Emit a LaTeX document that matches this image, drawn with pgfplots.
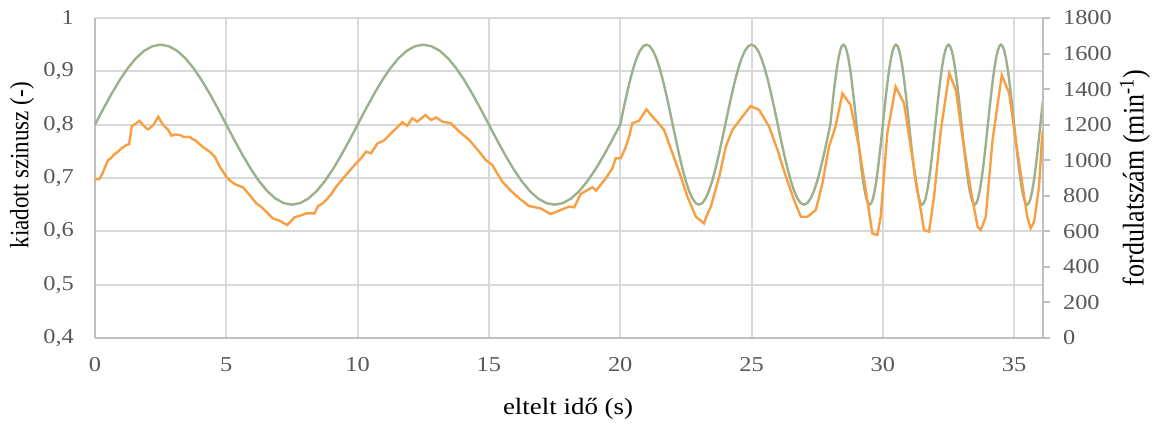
\documentclass[border=0pt]{standalone}
\usepackage{fontspec}
\setmainfont{Liberation Serif}
\newfontfamily\widefont[FakeStretch=1.15]{Liberation Serif}
\usepackage{graphicx}
\usepackage{pgfplots}
\pgfplotsset{compat=1.18}
\definecolor{colGreen}{HTML}{9BB08B}
\definecolor{colOrange}{HTML}{F7A043}
\definecolor{colText}{HTML}{595959}
\definecolor{colGrid}{HTML}{D9D9D9}
\definecolor{colAxis}{HTML}{BFBFBF}

\pgfplotsset{
  chartbase/.style={
    width=474pt, height=160pt, scale only axis,
    at={(0,0)}, anchor=south west,
    xmin=0, xmax=36.1,
    axis line style={-, colAxis, line width=1pt},
    tick label style={font=\widefont\fontsize{10.6}{12}\selectfont, text=colText},
    label style={text=colText},
    /pgf/number format/assume math mode=true,
  }
}

\begin{document}
\begin{tikzpicture}
% left axis: kiadott szinusz
\begin{axis}[
  chartbase,
  axis x line*=bottom, axis y line*=left,
  ymin=0.4, ymax=1,
  ytick={0.4,0.5,...,1.0},
  xtick={0,5,...,35},
  major tick length=0pt,
  grid=major,
  grid style={colGrid, line width=1pt},
  yticklabel style={/pgf/number format/use comma, /pgf/number format/fixed,
    /pgf/number format/precision=1, xshift=-7pt},
  xticklabel style={yshift=-6.4pt},
  every axis y label/.style={at={(axis description cs:-0.077,0.54)}, rotate=90, anchor=center,
    font=\fontsize{11.5}{13}\selectfont},
  every axis x label/.style={at={(axis description cs:0.499,-0.222)}, anchor=center,
    font=\widefont\fontsize{11.7}{13}\selectfont},
  ylabel={\scalebox{1}[1.15]{kiadott szinusz (-)}},
  xlabel={eltelt idő (s)},
]
\addplot[colGreen, line width=1.2pt] coordinates {
(0,0.8000) (0.3125,0.8293) (0.625,0.8574) (0.9375,0.8833) (1.25,0.9061) (1.5625,0.9247) (1.875,0.9386) (2.1875,0.9471)
(2.5,0.9500) (2.8125,0.9471) (3.125,0.9386) (3.4375,0.9247) (3.75,0.9061) (4.0625,0.8833) (4.375,0.8574) (4.6875,0.8293)
(5,0.8000) (5.3125,0.7707) (5.625,0.7426) (5.9375,0.7167) (6.25,0.6939) (6.5625,0.6753) (6.875,0.6614) (7.1875,0.6529)
(7.5,0.6500) (7.8125,0.6529) (8.125,0.6614) (8.4375,0.6753) (8.75,0.6939) (9.0625,0.7167) (9.375,0.7426) (9.6875,0.7707)
(10,0.8000) (10.3125,0.8293) (10.625,0.8574) (10.9375,0.8833) (11.25,0.9061) (11.5625,0.9247) (11.875,0.9386) (12.1875,0.9471)
(12.5,0.9500) (12.8125,0.9471) (13.125,0.9386) (13.4375,0.9247) (13.75,0.9061) (14.0625,0.8833) (14.375,0.8574) (14.6875,0.8293)
(15,0.8000) (15.3125,0.7707) (15.625,0.7426) (15.9375,0.7167) (16.25,0.6939) (16.5625,0.6753) (16.875,0.6614) (17.1875,0.6529)
(17.5,0.6500) (17.8125,0.6529) (18.125,0.6614) (18.4375,0.6753) (18.75,0.6939) (19.0625,0.7167) (19.375,0.7426) (19.6875,0.7707)
(20,0.8000) (20.125,0.8293) (20.25,0.8574) (20.375,0.8833) (20.5,0.9061) (20.625,0.9247) (20.75,0.9386) (20.875,0.9471)
(21,0.9500) (21.125,0.9471) (21.25,0.9386) (21.375,0.9247) (21.5,0.9061) (21.625,0.8833) (21.75,0.8574) (21.875,0.8293)
(22,0.8000) (22.125,0.7707) (22.25,0.7426) (22.375,0.7167) (22.5,0.6939) (22.625,0.6753) (22.75,0.6614) (22.875,0.6529)
(23,0.6500) (23.125,0.6529) (23.25,0.6614) (23.375,0.6753) (23.5,0.6939) (23.625,0.7167) (23.75,0.7426) (23.875,0.7707)
(24,0.8000) (24.125,0.8293) (24.25,0.8574) (24.375,0.8833) (24.5,0.9061) (24.625,0.9247) (24.75,0.9386) (24.875,0.9471)
(25,0.9500) (25.125,0.9471) (25.25,0.9386) (25.375,0.9247) (25.5,0.9061) (25.625,0.8833) (25.75,0.8574) (25.875,0.8293)
(26,0.8000) (26.125,0.7707) (26.25,0.7426) (26.375,0.7167) (26.5,0.6939) (26.625,0.6753) (26.75,0.6614) (26.875,0.6529)
(27,0.6500) (27.125,0.6529) (27.25,0.6614) (27.375,0.6753) (27.5,0.6939) (27.625,0.7167) (27.75,0.7426) (27.875,0.7707)
(28,0.8000) (28.0625,0.8293) (28.125,0.8574) (28.1875,0.8833) (28.25,0.9061) (28.3125,0.9247) (28.375,0.9386) (28.4375,0.9471)
(28.5,0.9500) (28.5625,0.9471) (28.625,0.9386) (28.6875,0.9247) (28.75,0.9061) (28.8125,0.8833) (28.875,0.8574) (28.9375,0.8293)
(29,0.8000) (29.0625,0.7707) (29.125,0.7426) (29.1875,0.7167) (29.25,0.6939) (29.3125,0.6753) (29.375,0.6614) (29.4375,0.6529)
(29.5,0.6500) (29.5625,0.6529) (29.625,0.6614) (29.6875,0.6753) (29.75,0.6939) (29.8125,0.7167) (29.875,0.7426) (29.9375,0.7707)
(30,0.8000) (30.0625,0.8293) (30.125,0.8574) (30.1875,0.8833) (30.25,0.9061) (30.3125,0.9247) (30.375,0.9386) (30.4375,0.9471)
(30.5,0.9500) (30.5625,0.9471) (30.625,0.9386) (30.6875,0.9247) (30.75,0.9061) (30.8125,0.8833) (30.875,0.8574) (30.9375,0.8293)
(31,0.8000) (31.0625,0.7707) (31.125,0.7426) (31.1875,0.7167) (31.25,0.6939) (31.3125,0.6753) (31.375,0.6614) (31.4375,0.6529)
(31.5,0.6500) (31.5625,0.6529) (31.625,0.6614) (31.6875,0.6753) (31.75,0.6939) (31.8125,0.7167) (31.875,0.7426) (31.9375,0.7707)
(32,0.8000) (32.0625,0.8293) (32.125,0.8574) (32.1875,0.8833) (32.25,0.9061) (32.3125,0.9247) (32.375,0.9386) (32.4375,0.9471)
(32.5,0.9500) (32.5625,0.9471) (32.625,0.9386) (32.6875,0.9247) (32.75,0.9061) (32.8125,0.8833) (32.875,0.8574) (32.9375,0.8293)
(33,0.8000) (33.0625,0.7707) (33.125,0.7426) (33.1875,0.7167) (33.25,0.6939) (33.3125,0.6753) (33.375,0.6614) (33.4375,0.6529)
(33.5,0.6500) (33.5625,0.6529) (33.625,0.6614) (33.6875,0.6753) (33.75,0.6939) (33.8125,0.7167) (33.875,0.7426) (33.9375,0.7707)
(34,0.8000) (34.0625,0.8293) (34.125,0.8574) (34.1875,0.8833) (34.25,0.9061) (34.3125,0.9247) (34.375,0.9386) (34.4375,0.9471)
(34.5,0.9500) (34.5625,0.9471) (34.625,0.9386) (34.6875,0.9247) (34.75,0.9061) (34.8125,0.8833) (34.875,0.8574) (34.9375,0.8293)
(35,0.8000) (35.0625,0.7707) (35.125,0.7426) (35.1875,0.7167) (35.25,0.6939) (35.3125,0.6753) (35.375,0.6614) (35.4375,0.6529)
(35.5,0.6500) (35.5625,0.6529) (35.625,0.6614) (35.6875,0.6753) (35.75,0.6939) (35.8125,0.7167) (35.875,0.7426) (35.9375,0.7707)
(36,0.8000) (36.0625,0.8293) (36.1,0.8460)
};
\end{axis}

% right axis: fordulatszam
\begin{axis}[
  chartbase,
  hide x axis,
  axis y line*=right,
  ymin=0, ymax=1800,
  ytick={0,200,...,1800},
  tick align=outside,
  major tick length=3.5pt,
  ytick style={colAxis, line width=1pt},
  yticklabel style={/pgf/number format/1000 sep={}, anchor=west, xshift=3pt},
  every axis y label/.style={at={(axis description cs:1.097,0.5)}, rotate=90, anchor=center,
    font=\fontsize{13}{14}\selectfont},
  ylabel={\scalebox{1}[1.15]{fordulatszám (min\textsuperscript{-1})}},
]
\addplot[colOrange, line width=1.2pt] coordinates {
(0.00,894) (0.17,894) (0.30,930) (0.35,950) (0.50,1001) (0.60,1010) (0.70,1029) (0.85,1045) (1.01,1067) (1.20,1086) (1.30,1090)
(1.40,1192) (1.55,1205) (1.69,1222) (1.85,1195) (1.95,1180) (2.03,1174) (2.22,1198) (2.41,1245) (2.50,1220) (2.60,1198) (2.79,1170)
(2.91,1138) (3.05,1145) (3.23,1142) (3.40,1130) (3.61,1132) (3.70,1120) (3.80,1114) (3.95,1095) (4.12,1073) (4.35,1050)
(4.56,1020) (4.75,964) (5.00,907) (5.15,885) (5.32,866) (5.50,855) (5.63,848) (5.89,804) (6.14,758) (6.35,735)
(6.52,710) (6.77,673) (7.03,660) (7.20,645) (7.32,636) (7.45,655) (7.60,679) (7.85,690) (8.04,701) (8.36,701)
(8.49,742) (8.65,755) (8.80,776) (9.00,810) (9.18,851) (9.50,907) (9.75,950) (9.94,982) (10.10,1005) (10.32,1048)
(10.51,1039) (10.76,1095) (11.00,1110) (11.34,1161) (11.70,1213) (11.89,1194) (12.08,1236) (12.27,1217)
(12.58,1254) (12.80,1226) (12.99,1241) (13.23,1217) (13.55,1208) (13.87,1161) (14.25,1114) (14.63,1048)
(14.88,1001) (15.13,973) (15.30,930) (15.51,879) (15.83,829) (16.15,786) (16.53,742) (16.97,729) (17.35,697)
(17.67,716) (18.05,739) (18.25,735) (18.49,810) (18.94,848) (19.08,829) (19.45,898) (19.70,954) (19.83,1011)
(20.02,1011) (20.20,1070) (20.34,1132) (20.46,1208) (20.72,1222) (21.00,1286) (21.23,1245) (21.45,1210)
(21.67,1170) (21.99,1039) (22.31,907) (22.56,795) (22.88,682) (23.19,645) (23.30,690) (23.45,739) (23.77,907)
(24.02,1076) (24.27,1170) (24.65,1245) (24.97,1305) (25.29,1283) (25.67,1189) (25.99,1058) (26.31,907)
(26.62,776) (26.88,682) (27.13,682) (27.45,720) (27.70,870) (27.95,1076) (28.20,1189) (28.46,1376) (28.77,1311)
(29.09,1076) (29.35,832) (29.60,589) (29.79,579) (29.92,682) (30.17,1151) (30.49,1414) (30.81,1320) (31.06,1076)
(31.32,832) (31.57,607) (31.76,598) (31.95,795) (32.21,1170) (32.53,1489) (32.78,1395) (33.03,1132) (33.35,832)
(33.61,626) (33.73,607) (33.92,682) (34.18,1114) (34.53,1479) (34.81,1376) (35.06,1114) (35.31,870) (35.50,682)
(35.63,617) (35.76,654) (35.95,851) (36.05,1100) (36.10,1170)
};
\end{axis}
\pgfresetboundingbox
\path[use as bounding box] (-47.5pt,-42.5pt) rectangle (530.5pt,169pt);
\end{tikzpicture}
\end{document}
